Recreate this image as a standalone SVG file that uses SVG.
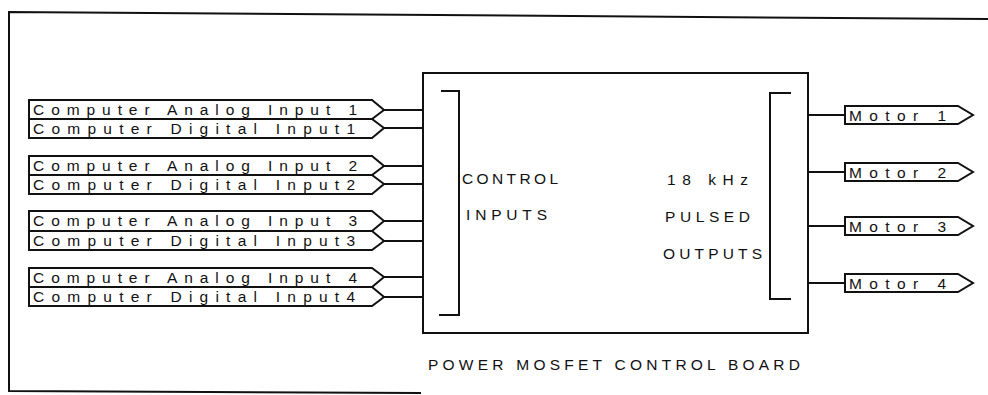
<svg xmlns="http://www.w3.org/2000/svg" width="988" height="395" viewBox="0 0 988 395">
<style>
.ln{fill:none;stroke:#111;stroke-width:2;stroke-linecap:square}
.sh{fill:#fff;stroke:#111;stroke-width:2;stroke-linejoin:miter}
.t{font-family:"Liberation Sans","DejaVu Sans",sans-serif;font-size:15.5px;fill:#111}
.b{font-family:"Liberation Sans","DejaVu Sans",sans-serif;font-size:15.5px;fill:#111}
</style>
<rect width="988" height="395" fill="#fff"/>
<g id="frame">
<polyline class="ln" points="988,19 9,12 9,391 420,393"/>
</g>
<g id="connectors">
<line class="ln" x1="384" y1="110" x2="423" y2="110"/>
<line class="ln" x1="384" y1="128" x2="423" y2="128"/>
<line class="ln" x1="384" y1="166" x2="423" y2="166"/>
<line class="ln" x1="384" y1="184" x2="423" y2="184"/>
<line class="ln" x1="384" y1="221" x2="423" y2="221"/>
<line class="ln" x1="384" y1="241" x2="423" y2="241"/>
<line class="ln" x1="384" y1="277" x2="423" y2="277"/>
<line class="ln" x1="384" y1="297" x2="423" y2="297"/>
<line class="ln" x1="808" y1="115" x2="845" y2="115"/>
<line class="ln" x1="808" y1="172" x2="845" y2="172"/>
<line class="ln" x1="808" y1="226" x2="845" y2="226"/>
<line class="ln" x1="808" y1="283" x2="845" y2="283"/>
</g>
<g id="board">
<rect class="sh" x="423" y="73" width="385" height="260" stroke-width="2.5"/>
<polyline class="ln" points="442,91 459,91 459,315 440,315" stroke-width="2.5"/>
<polyline class="ln" points="790,93 770,93 770,299 790,299" stroke-width="2.5"/>
<text class="b" x="462" y="184" textLength="96" lengthAdjust="spacing">CONTROL</text>
<text class="b" x="466" y="220" textLength="81" lengthAdjust="spacing">INPUTS</text>
<text class="b" x="667" y="185" textLength="81" lengthAdjust="spacing">18 kHz</text>
<text class="b" x="665" y="222" textLength="85" lengthAdjust="spacing">PULSED</text>
<text class="b" x="663" y="259" textLength="99" lengthAdjust="spacing">OUTPUTS</text>
<text class="b" x="428" y="370" textLength="372" lengthAdjust="spacing" font-size="16">POWER MOSFET CONTROL BOARD</text>
</g>
<g id="in-a1"><polygon class="sh" points="29,100 372,100 384,110 372,119 29,119"/><text class="t" x="33" y="115" textLength="324" lengthAdjust="spacing">Computer Analog Input 1</text></g>
<g id="in-d1"><polygon class="sh" points="29,119 372,119 384,128 372,138 29,138"/><text class="t" x="33" y="134" textLength="322" lengthAdjust="spacing">Computer Digital Input1</text></g>
<g id="in-a2"><polygon class="sh" points="29,156 372,156 384,166 372,175 29,175"/><text class="t" x="33" y="171" textLength="324" lengthAdjust="spacing">Computer Analog Input 2</text></g>
<g id="in-d2"><polygon class="sh" points="29,175 372,175 384,184 372,194 29,194"/><text class="t" x="33" y="190" textLength="322" lengthAdjust="spacing">Computer Digital Input2</text></g>
<g id="in-a3"><polygon class="sh" points="29,211 372,211 384,221 372,231 29,231"/><text class="t" x="33" y="226" textLength="324" lengthAdjust="spacing">Computer Analog Input 3</text></g>
<g id="in-d3"><polygon class="sh" points="29,231 372,231 384,241 372,250 29,250"/><text class="t" x="33" y="246" textLength="322" lengthAdjust="spacing">Computer Digital Input3</text></g>
<g id="in-a4"><polygon class="sh" points="29,268 372,268 384,277 372,287 29,287"/><text class="t" x="33" y="283" textLength="324" lengthAdjust="spacing">Computer Analog Input 4</text></g>
<g id="in-d4"><polygon class="sh" points="29,287 372,287 384,297 372,306 29,306"/><text class="t" x="33" y="302" textLength="322" lengthAdjust="spacing">Computer Digital Input4</text></g>
<g id="motor1"><polygon class="sh" points="845,106 958,106 973,115 958,124 845,124"/><text class="t" x="849" y="120.5" textLength="97" lengthAdjust="spacing">Motor 1</text></g>
<g id="motor2"><polygon class="sh" points="845,163 958,163 973,172 958,181 845,181"/><text class="t" x="849" y="177.5" textLength="97" lengthAdjust="spacing">Motor 2</text></g>
<g id="motor3"><polygon class="sh" points="845,217 958,217 973,226 958,235 845,235"/><text class="t" x="849" y="231.5" textLength="97" lengthAdjust="spacing">Motor 3</text></g>
<g id="motor4"><polygon class="sh" points="845,274 958,274 973,283 958,292 845,292"/><text class="t" x="849" y="288.5" textLength="97" lengthAdjust="spacing">Motor 4</text></g>
</svg>
